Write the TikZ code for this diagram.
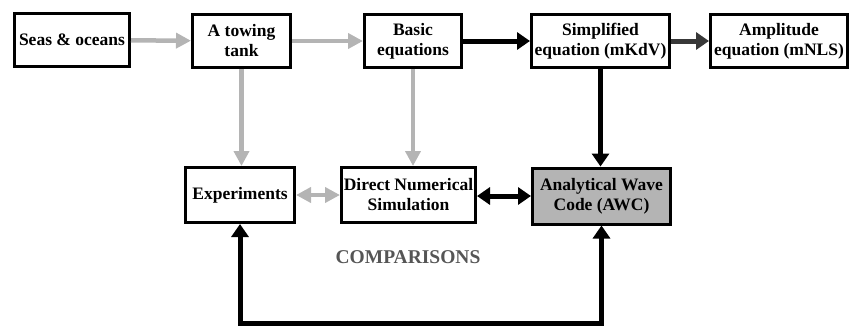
\documentclass[tikz,border=0pt]{standalone}
\usepackage{fontspec}
\setmainfont{Liberation Serif}
\usetikzlibrary{arrows.meta}

\definecolor{lgray}{HTML}{B4B4B4}
\definecolor{dgray}{HTML}{383838}
\definecolor{tgray}{HTML}{555555}

\tikzset{
  box/.style={draw, line width=3pt, align=center, inner sep=0pt,
    font=\fontsize{17.5}{20}\selectfont\bfseries},
  grayarr/.style={draw=lgray, line width=4.5pt, -{Triangle[length=15pt,width=15pt]}},
  blackarr/.style={draw=black, line width=5pt, -{Triangle[length=13pt,width=17pt]}},
}

\begin{document}
\begin{tikzpicture}[x=1pt,y=-1pt]
\useasboundingbox (0,0) rectangle (850,325);

%上の段
\node[box, minimum width=115, minimum height=53] (seas) at (72,40) {Seas \& oceans};
\node[box, minimum width=98, minimum height=53] (tank) at (241.5,41) {A towing\\tank};
\node[box, minimum width=97, minimum height=53] (basic) at (413,41) {Basic\\equations};
\node[box, minimum width=138, minimum height=53] (simple) at (600.5,41) {Simplified\\equation (mKdV)};
\node[box, minimum width=137, minimum height=53] (ampl) at (779,41) {Amplitude\\equation (mNLS)};

%下の段
\node[box, minimum width=109, minimum height=55] (expe) at (240,195) {Experiments};
\node[box, minimum width=134, minimum height=55] (dns) at (408.5,195) {Direct Numerical\\Simulation};
\node[box, fill=lgray, minimum width=138, minimum height=56] (awc) at (601.5,196) {Analytical Wave\\Code (AWC)};

\node[font=\fontsize{19.5}{22}\selectfont\bfseries, text=tgray] (cmp) at (408,257) {COMPARISONS};

%矢印
\draw[grayarr] (seas) -- (tank);
\draw[grayarr] (tank) -- (basic);
\draw[blackarr] (basic) -- (simple);
\draw[blackarr, draw=dgray] (simple) -- (ampl);
\draw[grayarr] (tank.south) -- (tank.south |- expe.north);
\draw[grayarr] (basic.south) -- (basic.south |- dns.north);
\draw[blackarr] (simple.south) -- (simple.south |- awc.north);
\draw[grayarr, {Triangle[length=15pt,width=15pt]}-{Triangle[length=15pt,width=15pt]}] (expe) -- (dns);
\draw[blackarr, {Triangle[length=13pt,width=17pt]}-{Triangle[length=13pt,width=17pt]}] (dns.east |- awc) -- (awc);

%比較のループ
\coordinate (loop) at (0,323);
\draw[blackarr, {Triangle[length=13pt,width=17pt]}-{Triangle[length=13pt,width=17pt]}, line join=miter]
  (expe.south) -- (expe.south |- loop) -| (awc.south);
\end{tikzpicture}
\end{document}
